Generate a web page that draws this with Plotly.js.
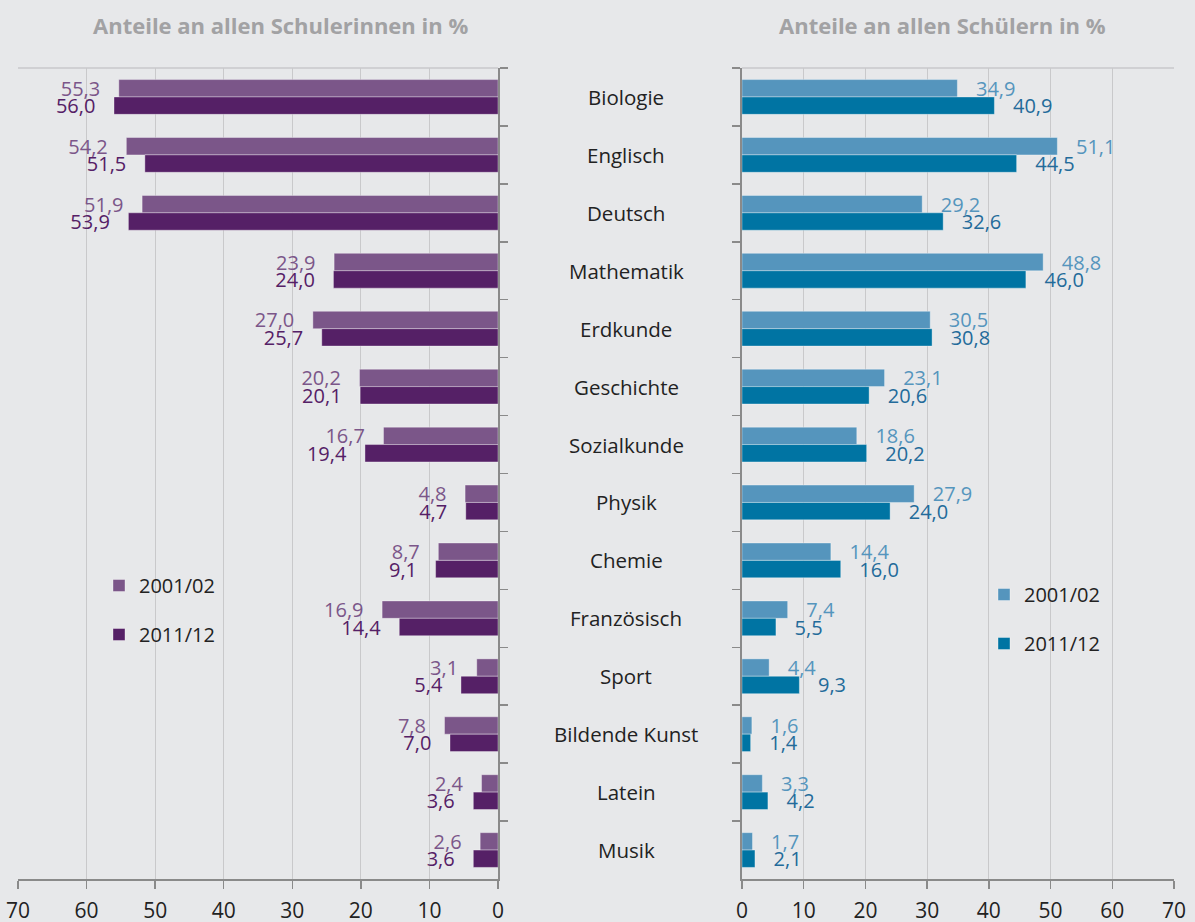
<!DOCTYPE html>
<html>
<head>
<meta charset="utf-8">
<script src="https://cdn.plot.ly/plotly-3.0.1.min.js"></script>
<style>
html,body{margin:0;padding:0;background:#e7e8ea;}
#chart{width:1195px;height:922px;}
</style>
</head>
<body>
<div id="chart"></div>
<script>
const categories = ["Biologie","Englisch","Deutsch","Mathematik","Erdkunde","Geschichte","Sozialkunde","Physik","Chemie","Französisch","Sport","Bildende Kunst","Latein","Musik"];
const girls2001 = [55.3,54.2,51.9,23.9,27.0,20.2,16.7,4.8,8.7,16.9,3.1,7.8,2.4,2.6];
const girls2011 = [56.0,51.5,53.9,24.0,25.7,20.1,19.4,4.7,9.1,14.4,5.4,7.0,3.6,3.6];
const boys2001 = [34.9,51.1,29.2,48.8,30.5,23.1,18.6,27.9,14.4,7.4,4.4,1.6,3.3,1.7];
const boys2011 = [40.9,44.5,32.6,46.0,30.8,20.6,20.2,24.0,16.0,5.5,9.3,1.4,4.2,2.1];
const seriesNames = ["2001/02","2011/12"];
const xTicks = [0,10,20,30,40,50,60,70];
const titleLeft = "Anteile an allen Schulerinnen in %";
const titleRight = "Anteile an allen Schülern in %";

const FONT = "Open Sans, Noto Sans, sans-serif";
const NB = "\u00a0\u00a0\u00a0";

function barTrace(x, name, color, textColor, xa, ya, legend, group, left) {
  return {
    type: "bar", orientation: "h", x: x, y: categories, name: name,
    xaxis: xa, yaxis: ya, legend: legend, legendgroup: group,
    marker: {color: color, line: {color: "rgba(255,255,255,0.35)", width: 1}},
    texttemplate: left ? ("%{x:.1f}" + NB) : (NB + "%{x:.1f}"),
    textposition: "outside", constraintext: "none", cliponaxis: false,
    textfont: {family: FONT, size: 20, color: textColor},
    hoverinfo: "x+y"
  };
}

const data = [
  barTrace(girls2001, seriesNames[0], "#7b5689", "#7b5689", "x", "y", "legend", "g1", true),
  barTrace(girls2011, seriesNames[1], "#552066", "#552066", "x", "y", "legend", "g2", true),
  barTrace(boys2001, seriesNames[0], "#5595bd", "#5595bd", "x2", "y2", "legend2", "b1", false),
  barTrace(boys2011, seriesNames[1], "#0074a3", "#236b9a", "x2", "y2", "legend2", "b2", false)
];

const W = 1195, H = 922;
const yDom = [1 - 879/H, 1 - 68/H];

const axisX = {
  tickvals: xTicks, ticktext: xTicks.map(String),
  showgrid: true, gridcolor: "#c9c9cb", gridwidth: 1,
  zeroline: false, showline: true, linecolor: "#8a8a8a", linewidth: 2,
  ticks: "outside", ticklen: 8, tickcolor: "#8a8a8a", tickwidth: 1.5,
  ticklabelstandoff: 4,
  tickfont: {family: FONT, size: 21, color: "#222"}, fixedrange: true
};
const axisY = {
  type: "category", autorange: "reversed", domain: yDom,
  showgrid: false, zeroline: false, showline: true, linecolor: "#8a8a8a", linewidth: 2,
  ticks: "outside", tickson: "boundaries", ticklen: 8, tickcolor: "#8a8a8a", tickwidth: 1.5,
  showticklabels: false, fixedrange: true
};

const annotations = categories.map(c => ({
  text: c, xref: "paper", yref: "y2", x: 626/W, y: c, showarrow: false,
  xanchor: "center", yanchor: "middle",
  font: {family: FONT, size: 20.5, color: "#222"}
}));
annotations.push({
  text: "<b>" + titleLeft + "</b>", xref: "paper", yref: "paper", x: 280/W, y: 1 - 25/H,
  showarrow: false, xanchor: "center", yanchor: "middle",
  font: {family: FONT, size: 22, color: "#a2a2a4"}
});
annotations.push({
  text: "<b>" + titleRight + "</b>", xref: "paper", yref: "paper", x: 942/W, y: 1 - 25/H,
  showarrow: false, xanchor: "center", yanchor: "middle",
  font: {family: FONT, size: 22, color: "#a2a2a4"}
});

const legendBase = {
  bgcolor: "rgba(0,0,0,0)", borderwidth: 0, traceorder: "grouped",
  tracegroupgap: 20, xanchor: "left", yanchor: "top",
  font: {family: FONT, size: 20, color: "#222"}
};

const layout = {
  width: W, height: H,
  margin: {l: 0, r: 0, t: 0, b: 0},
  paper_bgcolor: "#e7e8ea", plot_bgcolor: "#e7e8ea",
  separators: ",.",
  barmode: "group", bargap: 0.40, bargroupgap: 0,
  showlegend: true,
  xaxis: Object.assign({}, axisX, {domain: [18/W, 498/W], range: [70, 0], anchor: "y"}),
  yaxis: Object.assign({}, axisY, {side: "right", anchor: "x"}),
  xaxis2: Object.assign({}, axisX, {domain: [742/W, 1174/W], range: [0, 70], anchor: "y2"}),
  yaxis2: Object.assign({}, axisY, {side: "left", anchor: "x2"}),
  legend: Object.assign({}, legendBase, {x: 99/W, y: 1 - 566/H}),
  legend2: Object.assign({}, legendBase, {x: 984/W, y: 1 - 575/H}),
  annotations: annotations,
  shapes: [
    {type: "line", xref: "x domain", yref: "y domain", x0: 0, x1: 1, y0: 1, y1: 1, line: {color: "#c9c9cb", width: 1.5}},
    {type: "line", xref: "x2 domain", yref: "y2 domain", x0: 0, x1: 1, y0: 1, y1: 1, line: {color: "#c9c9cb", width: 1.5}}
  ]
};

Plotly.newPlot("chart", data, layout, {displayModeBar: false, staticPlot: true});
</script>
</body>
</html>
